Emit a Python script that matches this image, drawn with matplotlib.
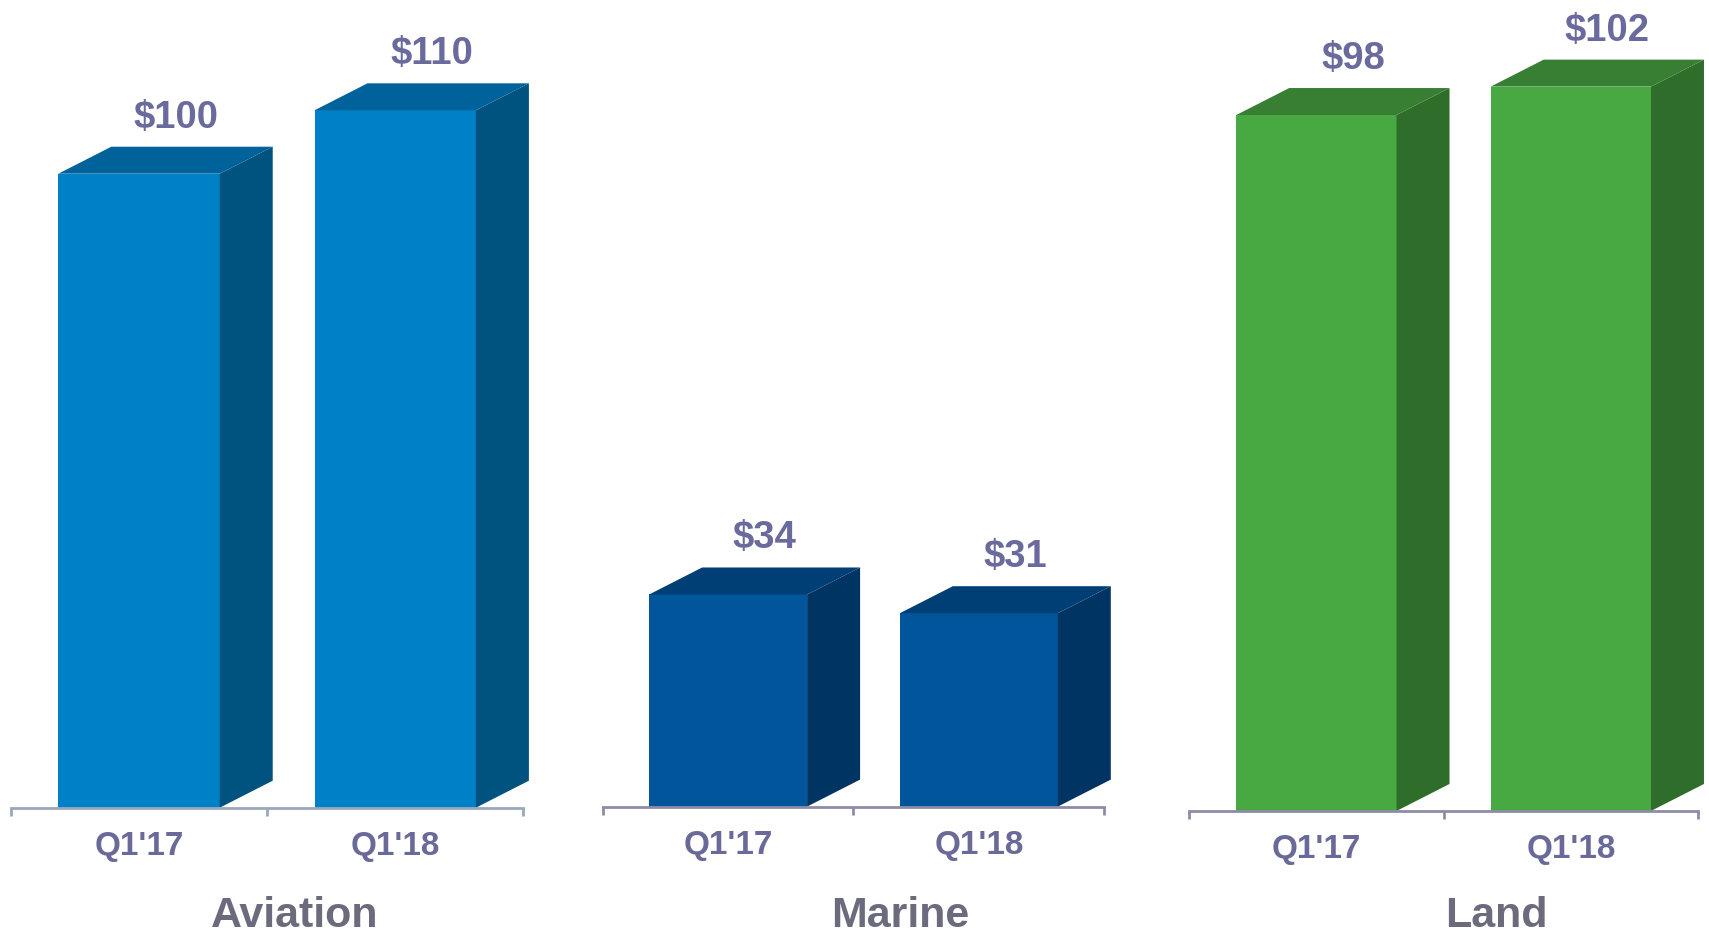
import matplotlib.pyplot as plt
from matplotlib.patches import Polygon

plt.rcParams['font.family'] = ['Liberation Sans', 'DejaVu Sans']

segments = ['Aviation', 'Marine', 'Land']
quarters = ["Q1'17", "Q1'18"]
aviation = [100, 110]
marine = [34, 31]
land = [98, 102]
values = [aviation, marine, land]

# front, top, side
colors = [
    ('#0080c6', '#00629a', '#00527f'),
    ('#00559b', '#003f75', '#003463'),
    ('#48a942', '#387f34', '#2e6e2a'),
]
axis_colors = ['#9aa8bc', '#8c8ca8', '#8c8ca8']

# axes placement (figure fractions) and y-range per panel
positions = [
    [0.0064, 0.1343, 0.2998, 0.8657],
    [0.3527, 0.1355, 0.2934, 0.8645],
    [0.6958, 0.1308, 0.2978, 0.8692],
]
ytops = [127.4, 129.3, 114.2]
title_shift = [28, 47, 53]  # pixels to the right of the panel centre

W, H = 1709, 933
fig = plt.figure(figsize=(W / 100, H / 100), dpi=100)

value_col = '#6a6a9e'
cat_col = '#6a6a9a'
title_col = '#6b6b7d'

bar_w = 0.63
depth_px = (53, 27)

for k, seg in enumerate(segments):
    ax = fig.add_axes(positions[k])
    ax.set_xlim(-0.5, 1.5)
    ax.set_ylim(0, ytops[k])
    ax_w = positions[k][2] * W
    ax_h = positions[k][3] * H
    dx = depth_px[0] / ax_w * 2.0
    dy = depth_px[1] / ax_h * ytops[k]
    front, top, side = colors[k]

    for i, v in enumerate(values[k]):
        x0 = i - bar_w / 2
        x1 = i + bar_w / 2
        ax.bar(i, v, width=bar_w, color=front, zorder=2, linewidth=0)
        ax.add_patch(Polygon([(x1, 0), (x1, v), (x1 + dx, v + dy), (x1 + dx, dy)],
                             closed=True, color=side, lw=0, zorder=2, clip_on=False))
        ax.add_patch(Polygon([(x0, v), (x1, v), (x1 + dx, v + dy), (x0 + dx, v + dy)],
                             closed=True, color=top, lw=0, zorder=2, clip_on=False))
        ax.annotate(f'${v}', (i + dx / 2, v + dy), xytext=(10, 29), textcoords='offset pixels',
                    ha='center', va='center', fontsize=27.5, fontweight='bold',
                    color=value_col, annotation_clip=False)
        ax.annotate(quarters[i], (i, 0), xytext=(0, -39), textcoords='offset pixels',
                    ha='center', va='center', fontsize=24, fontweight='bold',
                    color=cat_col, annotation_clip=False)

    ax.annotate(seg, (0.5, 0.0186), xycoords=('data', 'figure fraction'),
                xytext=(title_shift[k], 0), textcoords='offset pixels',
                ha='center', va='center', fontsize=31, fontweight='bold',
                color=title_col, annotation_clip=False)

    for s in ['top', 'right', 'left']:
        ax.spines[s].set_visible(False)
    ax.spines['bottom'].set_color(axis_colors[k])
    ax.spines['bottom'].set_linewidth(2)
    ax.set_yticks([])
    ax.set_xticks([-0.5, 0.5, 1.5])
    ax.set_xticklabels([])
    ax.tick_params(axis='x', length=6, width=2, color=axis_colors[k], direction='out')
    ax.patch.set_visible(False)

plt.savefig('out.png', dpi=100)
